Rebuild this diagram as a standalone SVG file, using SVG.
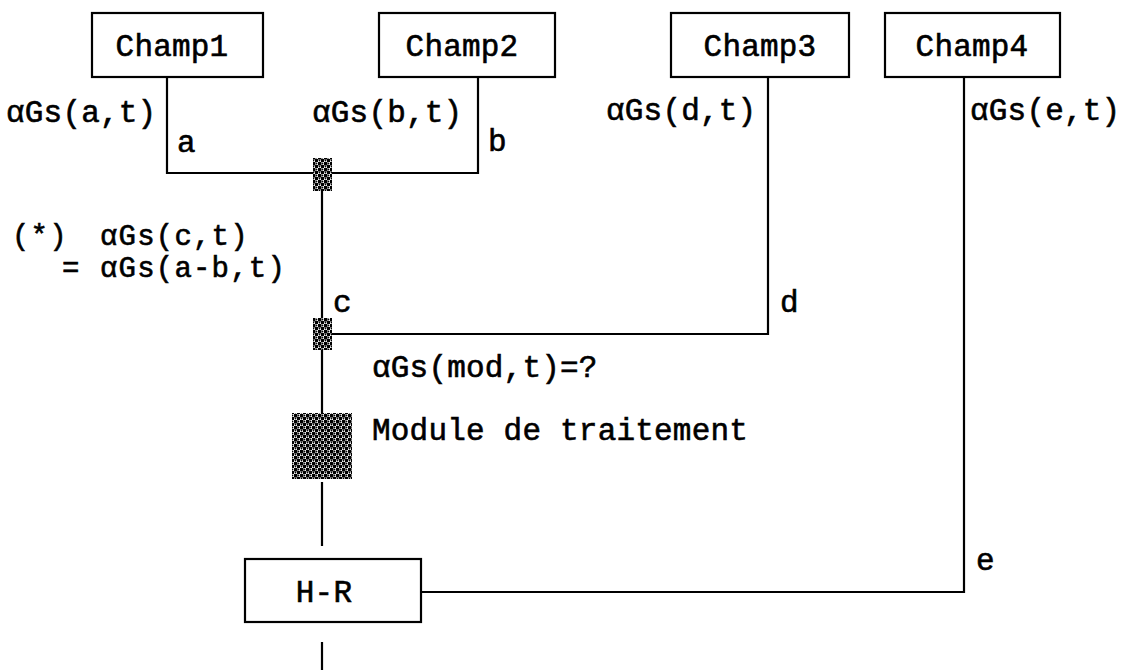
<svg xmlns="http://www.w3.org/2000/svg" width="1125" height="670" viewBox="0 0 1125 670">
<defs>
<pattern id="hatch" width="6" height="6" patternUnits="userSpaceOnUse">
<rect width="6" height="6" fill="#fff"/>
<path d="M0 0 H3.4 V3.4 H0 Z M3 3 H6 V6 H3 Z" fill="#000"/>
<circle cx="4.5" cy="1.5" r="0.9" fill="#000"/>
<circle cx="1.5" cy="4.5" r="0.9" fill="#000"/>
</pattern>
</defs>
<style>
.box{fill:#fff;stroke:#000;stroke-width:2.2}
.ln{fill:none;stroke:#000;stroke-width:2.2}
.t{font-family:"Liberation Mono","DejaVu Sans Mono",monospace;font-size:31px;letter-spacing:0.2px;fill:#000;stroke:#000;stroke-width:0.6px}
.s{font-size:29px;letter-spacing:1.2px}
.hb{fill:url(#hatch);stroke:none}
</style>
<rect width="1125" height="670" fill="#fff"/>
<g id="connectors">
<polyline class="ln" points="167,77 167,173 478,173 478,77"/>
<line class="ln" x1="322" y1="190" x2="322" y2="319"/>
<polyline class="ln" points="332,334 768,334 768,77"/>
<line class="ln" x1="322" y1="349" x2="322" y2="413"/>
<line class="ln" x1="322" y1="482" x2="322" y2="546"/>
<polyline class="ln" points="421,592 964,592 964,77"/>
<line class="ln" x1="322" y1="642" x2="322" y2="670"/>
</g>
<g id="champ1"><rect class="box" x="92" y="13" width="171" height="64"/><text class="t" x="172" y="56" text-anchor="middle">Champ1</text></g>
<g id="champ2"><rect class="box" x="379" y="13" width="176" height="64"/><text class="t" x="462" y="56" text-anchor="middle">Champ2</text></g>
<g id="champ3"><rect class="box" x="671" y="13" width="178" height="64"/><text class="t" x="760" y="56" text-anchor="middle">Champ3</text></g>
<g id="champ4"><rect class="box" x="885" y="13" width="175" height="64"/><text class="t" x="972" y="56" text-anchor="middle">Champ4</text></g>
<g id="junction1"><rect class="hb" x="313" y="158" width="19" height="33"/></g>
<g id="junction2"><rect class="hb" x="313" y="318" width="19" height="32"/></g>
<g id="module"><rect class="hb" x="292" y="413" width="60" height="66"/><text class="t" x="372" y="440">Module de traitement</text></g>
<g id="hr"><rect class="box" x="245" y="559" width="176" height="63"/><text class="t" x="324" y="602" text-anchor="middle">H-R</text></g>
<g id="labels">
<text class="t" x="6" y="122">αGs(a,t)</text>
<text class="t" x="177" y="152">a</text>
<text class="t" x="312" y="122">αGs(b,t)</text>
<text class="t" x="488" y="151">b</text>
<text class="t" x="606" y="120">αGs(d,t)</text>
<text class="t" x="970" y="120">αGs(e,t)</text>
<text class="t s" x="12" y="245">(*)</text>
<text class="t s" x="100" y="245">αGs(c,t)</text>
<text class="t s" x="62" y="277">=</text>
<text class="t s" x="100" y="277">αGs(a-b,t)</text>
<text class="t" x="333" y="312">c</text>
<text class="t" x="780" y="312">d</text>
<text class="t" x="372" y="377">αGs(mod,t)=?</text>
<text class="t" x="976" y="570">e</text>
</g>
</svg>
